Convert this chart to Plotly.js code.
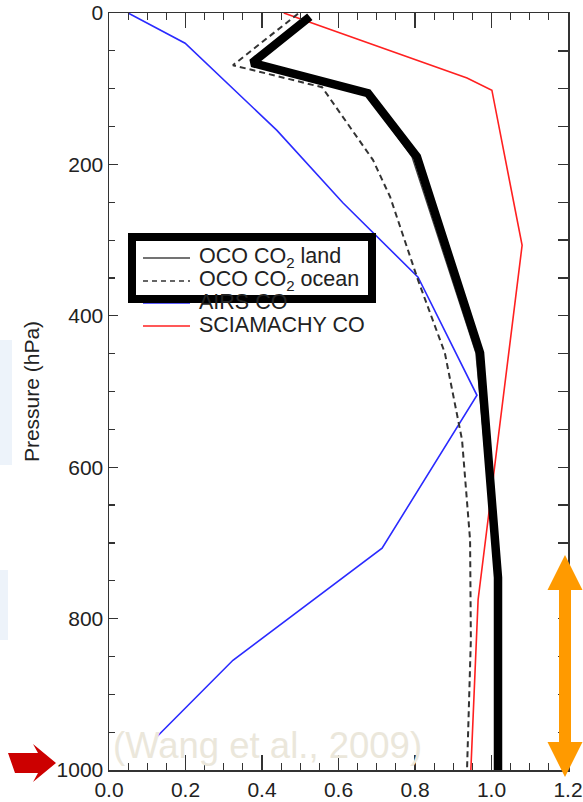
<!DOCTYPE html>
<html>
<head>
<meta charset="utf-8">
<script src="https://cdn.plot.ly/plotly-3.0.1.min.js"></script>
<style>
  html, body { margin: 0; padding: 0; background: #ffffff; }
  #chart { width: 583px; height: 802px; }
</style>
</head>
<body>
<div id="chart"></div>
<script>
// ---------- data ----------
// Normalised averaging-kernel / sensitivity value vs pressure (hPa)
const landPressure   = [5, 66, 106, 190, 449, 746, 1000];
const landValues     = [0.52, 0.374, 0.671, 0.792, 0.959, 1.014, 1.014];

// thick black highlight drawn over the OCO land profile
const highlightPressure = [5, 66, 106, 190, 449, 746, 1000];
const highlightValues   = [0.525, 0.374, 0.677, 0.805, 0.970, 1.017, 1.017];

const oceanPressure  = [1, 69, 98, 194, 243, 353, 449, 564, 696, 828, 1000];
const oceanValues    = [0.494, 0.324, 0.557, 0.690, 0.735, 0.808, 0.878, 0.923, 0.944, 0.946, 0.936];

const airsPressure   = [0, 40, 155, 251, 349, 505, 707, 855, 956];
const airsValues     = [0.050, 0.199, 0.439, 0.612, 0.808, 0.962, 0.714, 0.324, 0.125];

const sciaPressure   = [0, 86, 102, 307, 775, 1000];
const sciaValues     = [0.457, 0.936, 1.001, 1.080, 0.965, 0.946];

const seriesNames = ['OCO CO<sub>2</sub> land', 'OCO CO<sub>2</sub> ocean', 'AIRS CO', 'SCIAMACHY CO'];
const xTickValues = [0, 0.2, 0.4, 0.6, 0.8, 1.0, 1.2];
const yTickValues = [0, 200, 400, 600, 800, 1000];
const yTitle = 'Pressure (hPa)';
const citation = '(Wang et al., 2009)';

// ---------- geometry helpers (figure pixels -> paper) ----------
const W = 583, H = 802;
const M = { l: 109, r: 15, t: 13, b: 32 };
const PW = W - M.l - M.r, PH = H - M.t - M.b;
const px = x => (x - M.l) / PW;
const py = y => 1 - (y - M.t) / PH;

const FONT = 'Liberation Sans, Arial, Helvetica, sans-serif';
const TXT = '#222222';

const styles = [
  { color: '#444444', width: 1.3, dash: 'solid' },
  { color: '#333333', width: 2, dash: '6px,4px' },
  { color: '#2a2aff', width: 1.6, dash: 'solid' },
  { color: '#ff2020', width: 1.6, dash: 'solid' }
];

const traces = [
  { x: airsValues, y: airsPressure, name: seriesNames[2], mode: 'lines', line: styles[2] },
  { x: sciaValues, y: sciaPressure, name: seriesNames[3], mode: 'lines', line: styles[3] },
  { x: oceanValues, y: oceanPressure, name: seriesNames[1], mode: 'lines', line: styles[1] },
  { x: landValues, y: landPressure, name: seriesNames[0], mode: 'lines', line: styles[0] },
  { x: highlightValues, y: highlightPressure, name: 'highlight', mode: 'lines',
    line: { color: '#000000', width: 8.5 } },
  { x: [], y: [], yaxis: 'y2', mode: 'lines' }
];
traces.forEach(t => { t.showlegend = false; t.hoverinfo = 'skip'; });

// ---------- manual legend ----------
const legendRowsY = [257, 280, 302, 325];
const shapes = [];
const annotations = [];

// faint light-blue background remnants at the left edge
[[0, 340, 12, 465], [0, 570, 8, 640]].forEach(r => {
  shapes.push({ type: 'rect', xref: 'paper', yref: 'paper', layer: 'below',
    x0: px(r[0]), x1: px(r[2]), y0: py(r[1]), y1: py(r[3]),
    fillcolor: '#dfe9f6', opacity: 0.55, line: { width: 0 } });
});

seriesNames.forEach((name, i) => {
  shapes.push({
    type: 'line', xref: 'paper', yref: 'paper',
    x0: px(143), x1: px(190), y0: py(legendRowsY[i] + 1), y1: py(legendRowsY[i] + 1),
    line: { color: styles[i].color, width: i === 1 ? 1.6 : 1.5, dash: i === 1 ? '5px,4px' : 'solid' }
  });
  annotations.push({
    xref: 'paper', yref: 'paper', x: px(197), y: py(legendRowsY[i]),
    xanchor: 'left', yanchor: 'middle', showarrow: false,
    text: name, font: { family: FONT, size: 21.5, color: TXT }
  });
});
// heavy black emphasis box around the first two legend rows
shapes.push({
  type: 'rect', xref: 'paper', yref: 'paper',
  x0: px(132), x1: px(372), y0: py(237), y1: py(299),
  line: { color: '#000000', width: 8 }, fillcolor: 'rgba(0,0,0,0)'
});

// red arrow pointing at 1000 hPa
const redArrow = [[8,753],[38,753],[33,744],[56,763],[33,782],[38,773],[15,773]];
shapes.push({
  type: 'path', xref: 'paper', yref: 'paper',
  path: 'M' + redArrow.map(p => px(p[0]) + ',' + py(p[1])).join('L') + 'Z',
  fillcolor: '#cc0000', line: { width: 0 }
});
// orange double-headed arrow on the right
const oc = 565, sw = 6, hw = 17.5;
const orangeArrow = [[oc,555],[oc+hw,590],[oc+sw,590],[oc+sw,742],[oc+hw,742],[oc,777],
                     [oc-hw,742],[oc-sw,742],[oc-sw,590],[oc-hw,590]];
shapes.push({
  type: 'path', xref: 'paper', yref: 'paper',
  path: 'M' + orangeArrow.map(p => px(p[0]) + ',' + py(p[1])).join('L') + 'Z',
  fillcolor: '#ff9a00', line: { width: 0 }
});

// citation watermark
annotations.push({
  xref: 'paper', yref: 'paper', x: px(111), y: py(745),
  xanchor: 'left', yanchor: 'middle', showarrow: false,
  text: citation, font: { family: FONT, size: 36.5, color: '#ebe7db' }
});

const layout = {
  width: W, height: H,
  margin: M,
  paper_bgcolor: '#ffffff', plot_bgcolor: '#ffffff',
  showlegend: false,
  font: { family: FONT, size: 21, color: TXT },
  xaxis: {
    range: [0, 1.2], tickvals: xTickValues, tickformat: '.1f',
    ticks: 'inside', ticklen: 15, tickwidth: 1.3, tickcolor: '#333',
    minor: { dtick: 0.05, ticks: 'inside', ticklen: 7, tickwidth: 1.2, tickcolor: '#333' },
    showline: true, linecolor: '#333', linewidth: 1.5, mirror: 'ticks',
    showgrid: false, zeroline: false,
    tickfont: { family: FONT, size: 21, color: TXT }
  },
  yaxis: {
    range: [1000, 0], tickvals: yTickValues,
    ticks: 'inside', ticklen: 9, tickwidth: 1.3, tickcolor: '#333',
    minor: { dtick: 50, ticks: 'inside', ticklen: 6, tickwidth: 1.2, tickcolor: '#333' },
    showline: true, linecolor: '#333', linewidth: 1.5,
    showgrid: false, zeroline: false,
    tickfont: { family: FONT, size: 21, color: TXT },
    title: { text: yTitle, font: { family: FONT, size: 21, color: TXT }, standoff: 11 }
  },
  yaxis2: {
    overlaying: 'y', side: 'right', anchor: 'x',
    range: [1000, 0], dtick: 50, tick0: 0,
    ticks: 'inside', ticklen: 10, tickwidth: 1.3, tickcolor: '#333',
    showticklabels: false, showline: true, linecolor: '#333', linewidth: 1.5,
    showgrid: false, zeroline: false
  },
  shapes: shapes,
  annotations: annotations
};

Plotly.newPlot('chart', traces, layout, { staticPlot: true, displayModeBar: false });
</script>
</body>
</html>
